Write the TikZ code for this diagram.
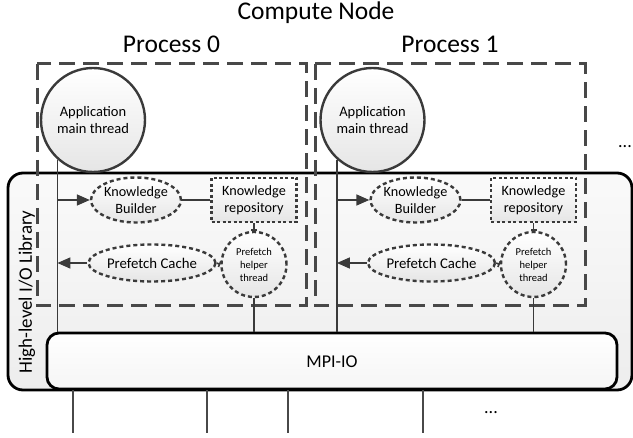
\documentclass[tikz,border=0pt]{standalone}
\usepackage{fontspec}
\setmainfont{Carlito}
\usetikzlibrary{arrows.meta,shapes.geometric}
\definecolor{ln}{HTML}{3A3A3A}
\definecolor{dl}{HTML}{484848}
\tikzset{
  shp/.style={draw=ln, line width=2.4pt, inner sep=0pt, top color=white, bottom color=black!10, text=black},
  appc/.style={shp, circle, minimum size=104pt, font=\fontsize{14.5}{16.5}\selectfont, align=center},
  dshape/.style={shp, dash pattern=on 4pt off 3pt},
  kb/.style={dshape, ellipse, minimum width=84pt, minimum height=45pt, font=\fontsize{14.2}{16.5}\selectfont, align=center},
  kr/.style={shp, rectangle, dash pattern=on 3pt off 2.5pt, minimum width=85pt, minimum height=44pt, font=\fontsize{14.2}{16.5}\selectfont, align=center},
  pc/.style={dshape, ellipse, minimum width=126pt, minimum height=37pt, font=\fontsize{14.8}{16.5}\selectfont},
  pht/.style={dshape, circle, minimum size=65pt, font=\fontsize{10.5}{13}\selectfont, align=center},
  procbox/.style={draw=dl, line width=3pt, dash pattern=on 16pt off 8pt},
  conn/.style={draw=ln, line width=1.6pt},
  arr/.style={conn, -{Triangle[length=13pt,width=11pt]}},
  bar/.style={conn, -{Bar[width=6pt,line width=1.6pt]}},
  lbl/.style={inner sep=0pt, anchor=base},
}
\begin{document}
\begin{tikzpicture}[x=1pt,y=-1pt]
\useasboundingbox (0,0) rectangle (633,438);
% titles
\node[lbl, font=\fontsize{25.5}{28}\selectfont] (title) at (316,20) {Compute Node};
\node[lbl, font=\fontsize{25.5}{28}\selectfont] (p0t) at (171.5,53) {Process 0};
\node[lbl, font=\fontsize{25.5}{28}\selectfont] (p1t) at (450,53) {Process 1};
% high-level I/O library box
\draw[black, line width=2.8pt, rounded corners=15pt, top color=black!2, bottom color=black!7] (8,173) rectangle (632,390);
\node[rotate=90, font=\fontsize{19}{22}\selectfont, inner sep=0pt] (hl) at (27,292) {High-level I/O Library};
% process boxes
\draw[procbox] (37,64) rectangle (306,306);
\draw[procbox] (315,64) rectangle (585,306);
% dots
\node[font=\fontsize{18}{20}\selectfont, inner sep=0pt] (dr) at (625,147) {...};
\node[font=\fontsize{18}{20}\selectfont, inner sep=0pt] (db) at (491,413) {...};
% process 0
\node[appc] (app0) at (93,120) {Application\\main thread};
\node[kb] (kb0) at (136,200) {Knowledge\\Builder};
\node[kr] (kr0) at (254,200) {Knowledge\\repository};
\node[pc] (pc0) at (152,263) {Prefetch Cache};
\node[pht] (pht0) at (254,264.5) {Prefetch\\helper\\thread};
% process 1
\node[appc] (app1) at (372.5,120) {Application\\main thread};
\node[kb] (kb1) at (415.5,200) {Knowledge\\Builder};
\node[kr] (kr1) at (533.5,200) {Knowledge\\repository};
\node[pc] (pc1) at (431.5,263) {Prefetch Cache};
\node[pht] (pht1) at (533.5,264.5) {Prefetch\\helper\\thread};
% MPI-IO
\node[draw=black, line width=2.8pt, rounded corners=12pt, top color=white, bottom color=black!4, minimum width=570pt, minimum height=56pt, inner sep=0pt] (mpi) at (332,361) {};
\node[font=\fontsize{18}{20}\selectfont, inner sep=0pt] (mpit) at (332,362) {MPI-IO};
% connectors
\foreach \i in {0,1}{
  \draw[conn] (app\i.228) -- (app\i.228 |- mpi.north);
  \draw[arr] (app\i.228 |- kb\i.west) -- (kb\i.west);
  \draw[conn] (kb\i.east) -- (kr\i.west);
  \draw[bar] (kr\i.south) -- (pht\i.north);
  \draw[bar] (pc\i.east) -- (pht\i.west);
  \draw[arr] (pc\i.west) -- (pc\i.west -| app\i.228);
  \draw[conn] (pht\i.south) -- (pht\i.south |- mpi.north);
}
% bottom lines
\foreach \x/\n in {73/a,207/b,288/c,423/d}{
  \coordinate (e\n) at (\x,433);
  \draw[draw=dl, line width=1.6pt] (mpi.south -| e\n) -- (e\n);
}
\end{tikzpicture}
\end{document}
